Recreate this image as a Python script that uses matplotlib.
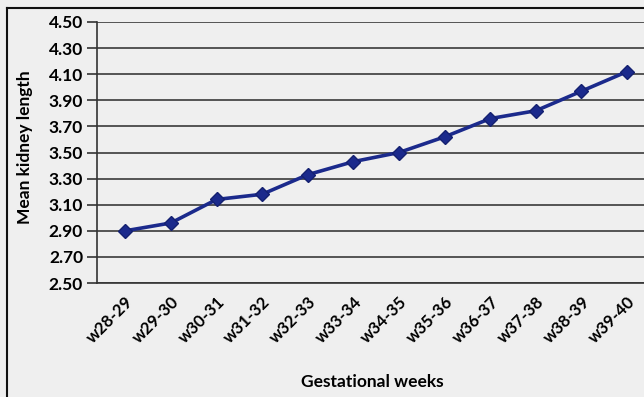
import matplotlib
matplotlib.use("Agg")
import matplotlib.pyplot as plt
from matplotlib.lines import Line2D

weeks = ["w28-29", "w29-30", "w30-31", "w31-32", "w32-33", "w33-34",
         "w34-35", "w35-36", "w36-37", "w37-38", "w38-39", "w39-40"]
kidney_length = [2.90, 2.96, 3.14, 3.18, 3.33, 3.43, 3.50, 3.62, 3.76, 3.82, 3.97, 4.12]
y_ticks = [2.50, 2.70, 2.90, 3.10, 3.30, 3.50, 3.70, 3.90, 4.10, 4.30, 4.50]

plt.rcParams['font.family'] = ['Lato', 'DejaVu Sans']

fig = plt.figure(figsize=(6.44, 3.97), dpi=100, facecolor='#efefef')
ax = fig.add_axes([97/644, 1 - 283/397, 1 - 97/644, (283 - 22)/397])
ax.set_facecolor('#efefef')

x = list(range(len(weeks)))
ax.plot(x, kidney_length, color='#1b2a8c', lw=2.6, marker='D', ms=7,
        markerfacecolor='#1b2a8c', markeredgecolor='#142070', zorder=3)

ax.set_ylim(2.50, 4.50)
ax.set_yticks(y_ticks)
ax.set_yticklabels([f"{v:.2f}" for v in y_ticks], fontsize=12.5, fontweight='bold')
ax.set_xlim(-0.62, 11.37)
ax.set_xticks(x)
ax.set_xticklabels(weeks, rotation=45, ha='right', rotation_mode='anchor',
                   fontsize=12, fontweight='bold')
ax.tick_params(axis='x', length=0, pad=8)
ax.tick_params(axis='y', length=7, width=1.2, color='#333333', pad=3)

ax.grid(axis='y', color='#3a3a3a', lw=1.2)
ax.set_axisbelow(True)
for s in ['top', 'right']:
    ax.spines[s].set_visible(False)
ax.spines['left'].set_color('#333333')
ax.spines['left'].set_linewidth(1.2)
ax.spines['bottom'].set_color('#333333')
ax.spines['bottom'].set_linewidth(1.2)

ax.set_ylabel("Mean kidney length", fontsize=12.5, fontweight='bold')
ax.yaxis.set_label_coords(-(97 - 33)/547, 0.52)
ax.set_xlabel("Gestational weeks", fontsize=12.5, fontweight='bold')
ax.xaxis.set_label_coords((372 - 97)/547, -(374 - 283)/261)

# border lines framing the chart area
fig.add_artist(Line2D([7/644, 1], [1 - 8/397, 1 - 8/397], transform=fig.transFigure,
                      color='#111111', lw=1.5))
fig.add_artist(Line2D([7/644, 7/644], [0, 1 - 8/397], transform=fig.transFigure,
                      color='#111111', lw=1.5))

fig.savefig("out.png", dpi=100, facecolor=fig.get_facecolor())
